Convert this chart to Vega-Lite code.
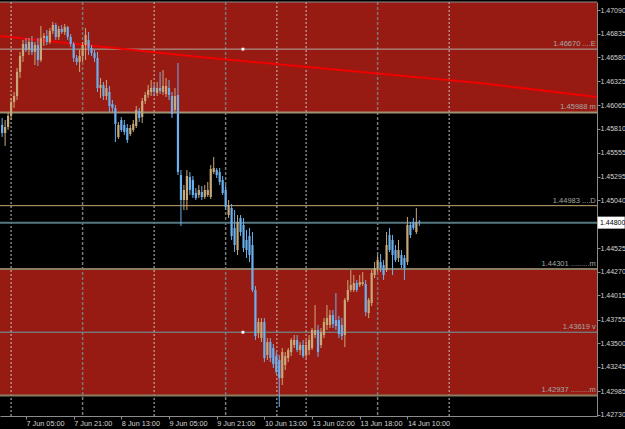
{
  "$schema": "https://vega.github.io/schema/vega-lite/v6.json",
  "width": 597,
  "height": 414,
  "autosize": {"type": "none"},
  "padding": {"left": 0, "top": 2, "right": 28, "bottom": 13},
  "background": "#000000",
  "config": {
    "view": {"stroke": null},
    "axisX": {"title": null, "grid": false, "labelAlign": "left", "labelBaseline": "top", "labelPadding": 0, "labelDx": 1, "tickSize": 3, "tickColor": "#8c8c8c", "domainColor": "#8c8c8c", "labelColor": "#d4d4d4", "labelFont": "Liberation Sans", "labelFontSize": 7.3, "labelFlush": false, "labelOverlap": false, "labelBound": false, "zindex": 1},
    "axisY": {"title": null, "grid": false, "labelAlign": "left", "labelBaseline": "middle", "labelPadding": 0, "tickSize": 3, "tickColor": "#8c8c8c", "domainColor": "#8c8c8c", "labelFont": "Liberation Sans", "labelFontSize": 7, "labelFlush": false, "labelOverlap": false, "labelBound": false, "zindex": 1}
  },
  "datasets": {
    "zones": [
      {"p1": 1.45988, "p2": 1.47178},
      {"p1": 1.42937, "p2": 1.44301}
    ],
    "seps": [
      {"i": 0}, {"i": 24}, {"i": 48}, {"i": 72}, {"i": 89.2}, {"i": 99}, {"i": 123}, {"i": 147}
    ],
    "levels": [
      {"name": "E", "p": 1.4667, "label": "1.46670 ....E"},
      {"name": "m1", "p": 1.45988, "label": "1.45988 m"},
      {"name": "D", "p": 1.44983, "label": "1.44983 ....D"},
      {"name": "bid", "p": 1.448, "label": ""},
      {"name": "m2", "p": 1.44301, "label": "1.44301 .........m"},
      {"name": "v", "p": 1.43619, "label": "1.43619  v"},
      {"name": "m3", "p": 1.42937, "label": "1.42937 .........m"}
    ],
    "trend": [
      {"i": -3.72, "p": 1.46812},
      {"i": 63.4, "p": 1.46586},
      {"i": 157.3, "p": 1.46305},
      {"i": 196.62, "p": 1.46154}
    ],
    "anchors": [
      {"i": 77.8, "p": 1.4667},
      {"i": 77.8, "p": 1.43619}
    ],
    "candles": [
      {"i": -3, "o": 1.45853, "h": 1.45928, "l": 1.45723, "c": 1.45766},
      {"i": -2, "o": 1.45766, "h": 1.45906, "l": 1.45626, "c": 1.45831},
      {"i": -1, "o": 1.45831, "h": 1.45982, "l": 1.45799, "c": 1.4595},
      {"i": 0, "o": 1.4595, "h": 1.46144, "l": 1.45906, "c": 1.461},
      {"i": 1, "o": 1.461, "h": 1.46208, "l": 1.46036, "c": 1.46165},
      {"i": 2, "o": 1.46165, "h": 1.46467, "l": 1.46122, "c": 1.46424},
      {"i": 3, "o": 1.46424, "h": 1.46639, "l": 1.46359, "c": 1.46596},
      {"i": 4, "o": 1.46596, "h": 1.46769, "l": 1.46532, "c": 1.46726},
      {"i": 5, "o": 1.46726, "h": 1.4679, "l": 1.46639, "c": 1.46661},
      {"i": 6, "o": 1.46661, "h": 1.4679, "l": 1.46607, "c": 1.46747},
      {"i": 7, "o": 1.46747, "h": 1.46812, "l": 1.46607, "c": 1.46639},
      {"i": 8, "o": 1.46639, "h": 1.46747, "l": 1.46499, "c": 1.46715},
      {"i": 9, "o": 1.46715, "h": 1.4679, "l": 1.46489, "c": 1.46553},
      {"i": 10, "o": 1.46553, "h": 1.4692, "l": 1.46532, "c": 1.4679},
      {"i": 11, "o": 1.4679, "h": 1.46844, "l": 1.46704, "c": 1.46812},
      {"i": 12, "o": 1.46812, "h": 1.46877, "l": 1.46715, "c": 1.46747},
      {"i": 13, "o": 1.46747, "h": 1.46898, "l": 1.46726, "c": 1.46866},
      {"i": 14, "o": 1.46866, "h": 1.46963, "l": 1.46833, "c": 1.4693},
      {"i": 15, "o": 1.4693, "h": 1.46952, "l": 1.46769, "c": 1.46801},
      {"i": 16, "o": 1.46801, "h": 1.4692, "l": 1.46769, "c": 1.46887},
      {"i": 17, "o": 1.46887, "h": 1.4693, "l": 1.46833, "c": 1.46855},
      {"i": 18, "o": 1.46855, "h": 1.46941, "l": 1.46823, "c": 1.46909},
      {"i": 19, "o": 1.46909, "h": 1.4692, "l": 1.46769, "c": 1.46801},
      {"i": 20, "o": 1.46801, "h": 1.46833, "l": 1.46693, "c": 1.46726},
      {"i": 21, "o": 1.46726, "h": 1.46747, "l": 1.46532, "c": 1.46575},
      {"i": 22, "o": 1.46575, "h": 1.46607, "l": 1.46499, "c": 1.46532},
      {"i": 23, "o": 1.46532, "h": 1.46661, "l": 1.46424, "c": 1.46596},
      {"i": 24, "o": 1.46596, "h": 1.46747, "l": 1.46532, "c": 1.46715},
      {"i": 25, "o": 1.46715, "h": 1.46898, "l": 1.46553, "c": 1.46823},
      {"i": 26, "o": 1.46769, "h": 1.46855, "l": 1.46607, "c": 1.46683},
      {"i": 27, "o": 1.46683, "h": 1.46715, "l": 1.46596, "c": 1.46629},
      {"i": 28, "o": 1.46629, "h": 1.46661, "l": 1.46532, "c": 1.46575},
      {"i": 29, "o": 1.46575, "h": 1.46639, "l": 1.46208, "c": 1.46251},
      {"i": 30, "o": 1.46251, "h": 1.46359, "l": 1.46144, "c": 1.46284},
      {"i": 31, "o": 1.46284, "h": 1.46316, "l": 1.46122, "c": 1.46165},
      {"i": 32, "o": 1.46165, "h": 1.46338, "l": 1.46122, "c": 1.46251},
      {"i": 33, "o": 1.46208, "h": 1.46273, "l": 1.45993, "c": 1.46057},
      {"i": 34, "o": 1.46079, "h": 1.46122, "l": 1.45993, "c": 1.46036},
      {"i": 35, "o": 1.46036, "h": 1.46068, "l": 1.45669, "c": 1.45863},
      {"i": 36, "o": 1.45723, "h": 1.45885, "l": 1.45702, "c": 1.45853},
      {"i": 37, "o": 1.45906, "h": 1.45939, "l": 1.45777, "c": 1.45799},
      {"i": 38, "o": 1.45853, "h": 1.45906, "l": 1.45745, "c": 1.45777},
      {"i": 39, "o": 1.4582, "h": 1.45863, "l": 1.45658, "c": 1.45691},
      {"i": 40, "o": 1.45755, "h": 1.45853, "l": 1.45734, "c": 1.4582},
      {"i": 41, "o": 1.45799, "h": 1.45906, "l": 1.45777, "c": 1.45863},
      {"i": 42, "o": 1.45842, "h": 1.46057, "l": 1.4582, "c": 1.46014},
      {"i": 43, "o": 1.46003, "h": 1.46036, "l": 1.45885, "c": 1.45928},
      {"i": 44, "o": 1.45939, "h": 1.46144, "l": 1.45874, "c": 1.46111},
      {"i": 45, "o": 1.46111, "h": 1.46208, "l": 1.46079, "c": 1.46176},
      {"i": 46, "o": 1.46176, "h": 1.46284, "l": 1.46144, "c": 1.4623},
      {"i": 47, "o": 1.46208, "h": 1.46338, "l": 1.46165, "c": 1.46251},
      {"i": 48, "o": 1.46251, "h": 1.46295, "l": 1.46165, "c": 1.46208},
      {"i": 49, "o": 1.46198, "h": 1.46316, "l": 1.46165, "c": 1.46251},
      {"i": 50, "o": 1.46251, "h": 1.46424, "l": 1.46187, "c": 1.46219},
      {"i": 51, "o": 1.46208, "h": 1.46445, "l": 1.46176, "c": 1.46273},
      {"i": 52, "o": 1.46187, "h": 1.46359, "l": 1.46154, "c": 1.46273},
      {"i": 53, "o": 1.46251, "h": 1.46338, "l": 1.46122, "c": 1.46176},
      {"i": 54, "o": 1.46165, "h": 1.46208, "l": 1.45928, "c": 1.45971},
      {"i": 55, "o": 1.46014, "h": 1.46251, "l": 1.45982, "c": 1.46165},
      {"i": 56, "o": 1.46176, "h": 1.46521, "l": 1.45313, "c": 1.45346},
      {"i": 57, "o": 1.45313, "h": 1.45367, "l": 1.44764, "c": 1.45044},
      {"i": 58, "o": 1.45044, "h": 1.45206, "l": 1.44936, "c": 1.45152},
      {"i": 59, "o": 1.45044, "h": 1.45367, "l": 1.44936, "c": 1.45303},
      {"i": 60, "o": 1.45292, "h": 1.45346, "l": 1.45098, "c": 1.45152},
      {"i": 61, "o": 1.4526, "h": 1.45303, "l": 1.45066, "c": 1.45098},
      {"i": 62, "o": 1.45119, "h": 1.45173, "l": 1.45044, "c": 1.45066},
      {"i": 63, "o": 1.45098, "h": 1.45206, "l": 1.45066, "c": 1.45152},
      {"i": 64, "o": 1.4513, "h": 1.45195, "l": 1.45044, "c": 1.45076},
      {"i": 65, "o": 1.45076, "h": 1.45206, "l": 1.45055, "c": 1.45152},
      {"i": 66, "o": 1.45098, "h": 1.45238, "l": 1.45076, "c": 1.45152},
      {"i": 67, "o": 1.45076, "h": 1.45421, "l": 1.45055, "c": 1.45378},
      {"i": 68, "o": 1.45346, "h": 1.45508, "l": 1.45324, "c": 1.45389},
      {"i": 69, "o": 1.45367, "h": 1.45389, "l": 1.45281, "c": 1.45313},
      {"i": 70, "o": 1.45346, "h": 1.45389, "l": 1.45206, "c": 1.45238},
      {"i": 71, "o": 1.4526, "h": 1.45303, "l": 1.45098, "c": 1.45119},
      {"i": 72, "o": 1.45152, "h": 1.45206, "l": 1.44936, "c": 1.44969},
      {"i": 73, "o": 1.44882, "h": 1.45044, "l": 1.4485, "c": 1.4499},
      {"i": 74, "o": 1.44958, "h": 1.45001, "l": 1.44613, "c": 1.44656},
      {"i": 75, "o": 1.44742, "h": 1.44936, "l": 1.44483, "c": 1.44559},
      {"i": 76, "o": 1.44505, "h": 1.44882, "l": 1.44451, "c": 1.44807},
      {"i": 77, "o": 1.4485, "h": 1.44882, "l": 1.44656, "c": 1.44699},
      {"i": 78, "o": 1.44775, "h": 1.4485, "l": 1.44483, "c": 1.44527},
      {"i": 79, "o": 1.44613, "h": 1.44721, "l": 1.44419, "c": 1.44505},
      {"i": 80, "o": 1.44656, "h": 1.44742, "l": 1.44376, "c": 1.44451},
      {"i": 81, "o": 1.44559, "h": 1.44699, "l": 1.44052, "c": 1.44074},
      {"i": 82, "o": 1.44074, "h": 1.44117, "l": 1.43535, "c": 1.43578},
      {"i": 83, "o": 1.4361, "h": 1.43772, "l": 1.43556, "c": 1.43729},
      {"i": 84, "o": 1.43556, "h": 1.43772, "l": 1.43513, "c": 1.43729},
      {"i": 85, "o": 1.43729, "h": 1.43772, "l": 1.43298, "c": 1.43341},
      {"i": 86, "o": 1.43373, "h": 1.43556, "l": 1.43319, "c": 1.43513},
      {"i": 87, "o": 1.43513, "h": 1.43556, "l": 1.43298, "c": 1.43341},
      {"i": 88, "o": 1.43449, "h": 1.43492, "l": 1.43233, "c": 1.43276},
      {"i": 89, "o": 1.43362, "h": 1.43405, "l": 1.43168, "c": 1.4319},
      {"i": 90, "o": 1.43319, "h": 1.43373, "l": 1.42813, "c": 1.43125},
      {"i": 91, "o": 1.43125, "h": 1.43449, "l": 1.4305, "c": 1.43405},
      {"i": 92, "o": 1.43265, "h": 1.43405, "l": 1.43211, "c": 1.43362},
      {"i": 93, "o": 1.43341, "h": 1.43449, "l": 1.43298, "c": 1.43427},
      {"i": 94, "o": 1.43405, "h": 1.43556, "l": 1.43362, "c": 1.43535},
      {"i": 95, "o": 1.43481, "h": 1.43589, "l": 1.43449, "c": 1.43535},
      {"i": 96, "o": 1.43535, "h": 1.43589, "l": 1.43405, "c": 1.43427},
      {"i": 97, "o": 1.43427, "h": 1.43513, "l": 1.43373, "c": 1.43481},
      {"i": 98, "o": 1.43481, "h": 1.43535, "l": 1.43341, "c": 1.43362},
      {"i": 99, "o": 1.43373, "h": 1.43535, "l": 1.43341, "c": 1.43481},
      {"i": 100, "o": 1.43427, "h": 1.43589, "l": 1.43373, "c": 1.43535},
      {"i": 101, "o": 1.43449, "h": 1.43664, "l": 1.43427, "c": 1.43643},
      {"i": 102, "o": 1.43589, "h": 1.43912, "l": 1.43556, "c": 1.43643},
      {"i": 103, "o": 1.43643, "h": 1.43697, "l": 1.43352, "c": 1.43405},
      {"i": 104, "o": 1.43481, "h": 1.43664, "l": 1.43449, "c": 1.43621},
      {"i": 105, "o": 1.43589, "h": 1.43772, "l": 1.43556, "c": 1.43729},
      {"i": 106, "o": 1.43697, "h": 1.43912, "l": 1.43643, "c": 1.43772},
      {"i": 107, "o": 1.43697, "h": 1.43858, "l": 1.43664, "c": 1.43804},
      {"i": 108, "o": 1.43804, "h": 1.43858, "l": 1.43664, "c": 1.43707},
      {"i": 109, "o": 1.4375, "h": 1.44041, "l": 1.43643, "c": 1.43686},
      {"i": 110, "o": 1.4375, "h": 1.43794, "l": 1.43556, "c": 1.436},
      {"i": 111, "o": 1.43697, "h": 1.43772, "l": 1.43535, "c": 1.43578},
      {"i": 112, "o": 1.43589, "h": 1.43988, "l": 1.43459, "c": 1.43966},
      {"i": 113, "o": 1.43966, "h": 1.44182, "l": 1.43944, "c": 1.44074},
      {"i": 114, "o": 1.44074, "h": 1.44289, "l": 1.44052, "c": 1.44128},
      {"i": 115, "o": 1.44074, "h": 1.44236, "l": 1.44052, "c": 1.44149},
      {"i": 116, "o": 1.44149, "h": 1.44182, "l": 1.44052, "c": 1.44074},
      {"i": 117, "o": 1.44128, "h": 1.44236, "l": 1.44106, "c": 1.4416},
      {"i": 118, "o": 1.44139, "h": 1.44268, "l": 1.44117, "c": 1.4416},
      {"i": 119, "o": 1.44139, "h": 1.44182, "l": 1.43794, "c": 1.43837},
      {"i": 120, "o": 1.43826, "h": 1.43988, "l": 1.43772, "c": 1.43966},
      {"i": 121, "o": 1.43934, "h": 1.44289, "l": 1.43901, "c": 1.44257},
      {"i": 122, "o": 1.44236, "h": 1.44376, "l": 1.44203, "c": 1.44311},
      {"i": 123, "o": 1.44311, "h": 1.44451, "l": 1.44268, "c": 1.44397},
      {"i": 124, "o": 1.44376, "h": 1.44462, "l": 1.44268, "c": 1.44311},
      {"i": 125, "o": 1.44343, "h": 1.44397, "l": 1.44182, "c": 1.44236},
      {"i": 126, "o": 1.44289, "h": 1.44699, "l": 1.44268, "c": 1.44559},
      {"i": 127, "o": 1.44667, "h": 1.44742, "l": 1.44483, "c": 1.44505},
      {"i": 128, "o": 1.44613, "h": 1.44667, "l": 1.44236, "c": 1.44451},
      {"i": 129, "o": 1.44505, "h": 1.44559, "l": 1.44376, "c": 1.44397},
      {"i": 130, "o": 1.44419, "h": 1.44613, "l": 1.44376, "c": 1.44505},
      {"i": 131, "o": 1.44451, "h": 1.44505, "l": 1.44311, "c": 1.44343},
      {"i": 132, "o": 1.44419, "h": 1.44451, "l": 1.44182, "c": 1.44311},
      {"i": 133, "o": 1.44376, "h": 1.44861, "l": 1.44343, "c": 1.44775},
      {"i": 134, "o": 1.44775, "h": 1.44807, "l": 1.44634, "c": 1.44667},
      {"i": 135, "o": 1.44807, "h": 1.4485, "l": 1.44721, "c": 1.44742},
      {"i": 136, "o": 1.44699, "h": 1.44958, "l": 1.44677, "c": 1.44807},
      {"i": 137, "o": 1.4481, "h": 1.44828, "l": 1.44764, "c": 1.448}
    ]
  },
  "layer": [
    {
      "data": {"name": "zones"},
      "mark": {"type": "rect", "color": "#981b13"},
      "encoding": {
        "y": {"field": "p1", "type": "quantitative", "scale": {"domain": [1.42716, 1.47178], "nice": false, "zero": false},
          "axis": {"orient": "right", "values": [1.4709, 1.46835, 1.4658, 1.46325, 1.46065, 1.4581, 1.45555, 1.45295, 1.4504, 1.448, 1.44525, 1.4427, 1.44015, 1.43755, 1.435, 1.43245, 1.42985, 1.4273], "format": ".5f",
            "tickCount": 100, "labelOverlap": false, "labelFontSize": 7, "labelPadding": 0, "labelBound": false, "labelFlush": false,
            "labelColor": "#d4d4d4",
            "labelOpacity": {"condition": {"test": "datum.value == 1.448", "value": 0}, "value": 1}}},
        "y2": {"field": "p2"}
      }
    },
    {
      "data": {"name": "seps"},
      "transform": [{"filter": "datum.i != 24 && datum.i != 72 && datum.i != 123"}],
      "mark": {"type": "rule", "color": "#c4c4c4", "strokeDash": [2, 2], "strokeWidth": 1},
      "encoding": {
        "x": {"field": "i", "type": "quantitative", "scale": {"domain": [-3.72, 196.62], "nice": false, "zero": false},
          "axis": {"values": [5, 21, 37, 53, 69, 85, 101, 117, 133], "labelOverlap": false, "tickCount": 100,
            "labelExpr": "['7 Jun 05:00','7 Jun 21:00','8 Jun 13:00','9 Jun 05:00','9 Jun 21:00','10 Jun 13:00','13 Jun 02:00','13 Jun 18:00','14 Jun 10:00'][indexof([5,21,37,53,69,85,101,117,133], datum.value)]"}}
      }
    },
    {
      "data": {"name": "seps"},
      "transform": [{"filter": "datum.i == 24 || datum.i == 72 || datum.i == 123"}],
      "mark": {"type": "rule", "color": "#7a7a7a", "strokeDash": [3, 2], "strokeWidth": 1.5},
      "encoding": {
        "x": {"field": "i", "type": "quantitative"}
      }
    },
    {
      "data": {"name": "levels"},
      "transform": [{"filter": "datum.name == 'm1' || datum.name == 'm2' || datum.name == 'm3' || datum.name == 'bid'"}],
      "mark": {"type": "rule", "strokeWidth": 2},
      "encoding": {
        "y": {"field": "p", "type": "quantitative"},
        "color": {"field": "name", "type": "nominal", "legend": null, "scale": {"domain": ["E", "m1", "D", "bid", "m2", "v", "m3"], "range": ["#aeaca4", "#a09274", "#c8a474", "#557880", "#8a7c60", "#6a9ea6", "#8a7c60"]}}
      }
    },
    {
      "data": {"name": "levels"},
      "transform": [{"filter": "datum.name == 'E' || datum.name == 'D' || datum.name == 'v'"}],
      "mark": {"type": "rule", "strokeWidth": 1},
      "encoding": {
        "y": {"field": "p", "type": "quantitative"},
        "color": {"field": "name", "type": "nominal", "legend": null}
      }
    },
    {
      "data": {"name": "trend"},
      "mark": {"type": "line", "color": "#f00000", "strokeWidth": 2},
      "encoding": {
        "x": {"field": "i", "type": "quantitative"},
        "y": {"field": "p", "type": "quantitative"}
      }
    },
    {
      "data": {"name": "candles"},
      "mark": {"type": "rule", "strokeWidth": 1},
      "encoding": {
        "x": {"field": "i", "type": "quantitative"},
        "y": {"field": "h", "type": "quantitative"},
        "y2": {"field": "l"},
        "color": {"condition": {"test": "datum.c >= datum.o", "value": "#c8a878"}, "value": "#6cb0ee"}
      }
    },
    {
      "data": {"name": "candles"},
      "mark": {"type": "rule", "strokeWidth": 2.2, "strokeCap": "butt"},
      "encoding": {
        "x": {"field": "i", "type": "quantitative"},
        "y": {"field": "o", "type": "quantitative"},
        "y2": {"field": "c"},
        "color": {"condition": {"test": "datum.c >= datum.o", "value": "#c8a878"}, "value": "#6cb0ee"}
      }
    },
    {
      "data": {"name": "anchors"},
      "mark": {"type": "square", "color": "#ffffff", "filled": true, "size": 8, "opacity": 1},
      "encoding": {
        "x": {"field": "i", "type": "quantitative"},
        "y": {"field": "p", "type": "quantitative"}
      }
    },
    {
      "data": {"name": "levels"},
      "mark": {"type": "text", "align": "right", "baseline": "bottom", "dy": -1, "font": "Liberation Sans", "fontSize": 7.5, "color": "#a2aaa6"},
      "encoding": {
        "x": {"datum": 196.2, "type": "quantitative"},
        "y": {"field": "p", "type": "quantitative"},
        "text": {"field": "label"}
      }
    },
    {
      "data": {"name": "levels"},
      "transform": [{"filter": "datum.name == 'bid'"}],
      "mark": {"type": "tick", "orient": "horizontal", "color": "#ffffff", "size": 27, "thickness": 12, "opacity": 1},
      "encoding": {
        "x": {"datum": 201.4, "type": "quantitative"},
        "y": {"field": "p", "type": "quantitative"}
      }
    },
    {
      "data": {"name": "levels"},
      "transform": [{"filter": "datum.name == 'bid'"}],
      "mark": {"type": "text", "align": "left", "baseline": "middle", "font": "Liberation Sans", "fontSize": 7, "color": "#000000"},
      "encoding": {
        "x": {"datum": 197.63, "type": "quantitative"},
        "y": {"field": "p", "type": "quantitative"},
        "text": {"field": "p", "type": "quantitative", "format": ".5f"}
      }
    },
    {
      "data": {"name": "zones"},
      "transform": [{"filter": "datum.p2 > 1.47"}],
      "mark": {"type": "rule", "color": "#8c8c8c", "strokeWidth": 1},
      "encoding": {
        "y": {"field": "p2", "type": "quantitative"}
      }
    }
  ]
}
